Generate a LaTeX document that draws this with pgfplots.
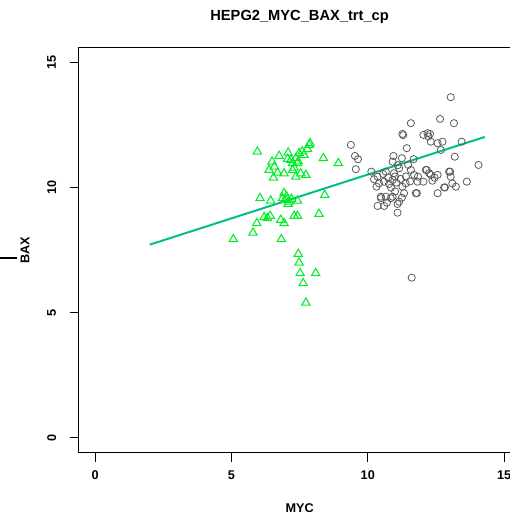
\documentclass[border=0pt]{standalone}
\usepackage{pgfplots}
\pgfplotsset{compat=1.18}
\usepackage{fontspec}
\setmainfont{Liberation Sans}
\definecolor{trigreen}{RGB}{0,238,40}
\definecolor{fitline}{RGB}{0,190,140}
\definecolor{circgray}{RGB}{90,90,90}
\begin{document}
\begin{tikzpicture}[x=0.75pt,y=0.75pt]
% image is 510 x 515 px, 1px = 0.75pt
\useasboundingbox (0,0) rectangle (510,515);
\clip (0,0) rectangle (510,515);
\draw[line width=1pt] (0,257) -- (17,257);
\begin{axis}[
  at={(59.03pt,46.73pt)}, anchor=south west,
  scale only axis,
  width=331.35pt, height=303.75pt,
  xmin=-0.6, xmax=15.6, ymin=-0.6, ymax=15.6,
  xtick={0,5,10,15}, ytick={0,5,10,15},
  xtick pos=bottom, ytick pos=left,
  tick align=outside,
  major tick length=6.75pt,
  axis line style={line width=0.9pt},
  tick style={black, line width=0.8pt},
  /pgf/number format/assume math mode=true,
  ticklabel style={font=\bfseries\fontsize{9.5}{11}\selectfont},
  xticklabel style={yshift=-3.5pt},
  yticklabel style={rotate=90, anchor=center},
  yticklabel shift=13.5pt,
  title={HEPG2\_MYC\_BAX\_trt\_cp},
  title style={font=\bfseries\fontsize{11}{13}\selectfont, at={(axis description cs:0.5,1)}, anchor=center, yshift=17pt},
  xlabel={MYC}, ylabel={BAX},
  label style={font=\bfseries\fontsize{9.5}{11}\selectfont},
  xlabel style={at={(axis description cs:0.5,0)}, anchor=center, yshift=-41.25pt},
  ylabel style={at={(axis description cs:-0.1215,0.5)}, anchor=center},
  clip=false,
]
\addplot[only marks, mark=triangle, mark size=3.6pt, mark options={draw=trigreen, line width=0.8pt}] coordinates {
(5.95,11.44) (6.49,11.04) (6.75,11.27) (7.08,11.40) (7.85,11.71) (7.79,11.54)
(7.66,11.31) (7.48,11.38) (7.36,11.18) (7.18,11.11) (7.24,10.98) (7.42,10.98)
(8.37,11.18) (8.92,10.98) (6.38,10.71) (6.57,10.84) (6.69,10.60) (6.54,10.40)
(6.93,10.57) (7.24,10.71) (7.36,10.44) (7.54,10.57) (7.73,10.51) (7.30,10.80)
(7.45,11.05) (7.60,11.45) (7.88,11.78) (7.06,11.15)
(6.05,9.58) (6.44,9.48) (6.93,9.78) (6.87,9.58) (6.99,9.51) (7.11,9.44)
(7.08,9.35) (7.42,9.48) (8.42,9.71) (7.02,9.65) (7.20,9.55)
(6.20,8.82) (6.42,8.87) (6.32,8.78) (6.81,8.71) (6.93,8.58) (7.30,8.87)
(7.42,8.87) (8.21,8.95) (5.93,8.58) (5.79,8.20) (5.07,7.94) (6.83,7.94)
(7.45,7.35) (7.48,7.00) (7.52,6.58) (8.09,6.58) (7.63,6.18) (7.73,5.40)
};
\addplot[only marks, mark=o, mark size=2.7pt, mark options={draw=circgray, line width=0.6pt}] coordinates {
(13.04,13.62) (11.58,12.58) (12.65,12.75) (13.16,12.58) (11.27,12.15) (11.30,12.10)
(12.04,12.11) (12.19,12.18) (12.28,12.15) (12.22,12.05) (12.31,11.84) (12.56,11.78)
(12.74,11.84) (12.68,11.51) (13.44,11.84) (9.38,11.71) (9.53,11.27) (9.64,11.14)
(9.56,10.74) (11.43,11.58) (10.94,11.27) (11.25,11.18) (10.91,11.04) (11.68,11.14)
(11.48,10.91) (13.19,11.24) (14.06,10.91) (10.13,10.64) (10.36,10.44) (10.66,10.64)
(10.96,10.58) (11.15,10.78) (11.58,10.71) (11.70,10.51) (11.84,10.44) (12.16,10.71)
(12.25,10.58) (12.56,10.51) (12.98,10.64) (13.04,10.44) (13.63,10.24) (12.83,10.01)
(13.23,10.04) (10.32,10.04) (10.60,10.24) (10.78,10.15) (10.91,10.31) (11.27,10.04)
(11.39,10.17) (11.80,9.78) (12.56,9.78) (10.48,9.58) (10.66,9.64) (10.84,9.58)
(11.15,9.44) (10.36,9.27) (10.60,9.27) (10.23,10.34) (10.41,10.17) (10.48,9.64)
(10.91,9.64) (11.33,9.78) (11.76,9.78) (11.82,10.24) (11.09,9.35) (11.09,9.00)
(11.61,6.40) (12.04,10.24) (12.37,10.28) (13.10,10.17) (12.80,10.01) (12.31,10.51)
(13.02,10.64) (12.13,10.71) (11.00,10.45) (11.05,10.20) (10.85,10.00) (11.20,10.35)
(10.75,10.40) (11.40,10.45) (11.10,10.90) (11.55,10.25) (12.45,10.40) (10.56,10.55)
(11.00,9.85) (11.25,9.60) (10.70,9.40)
};
\addplot[fitline, line width=1.5pt] coordinates {(2.0,7.72) (14.29,12.03)};
\end{axis}
\end{tikzpicture}
\end{document}
